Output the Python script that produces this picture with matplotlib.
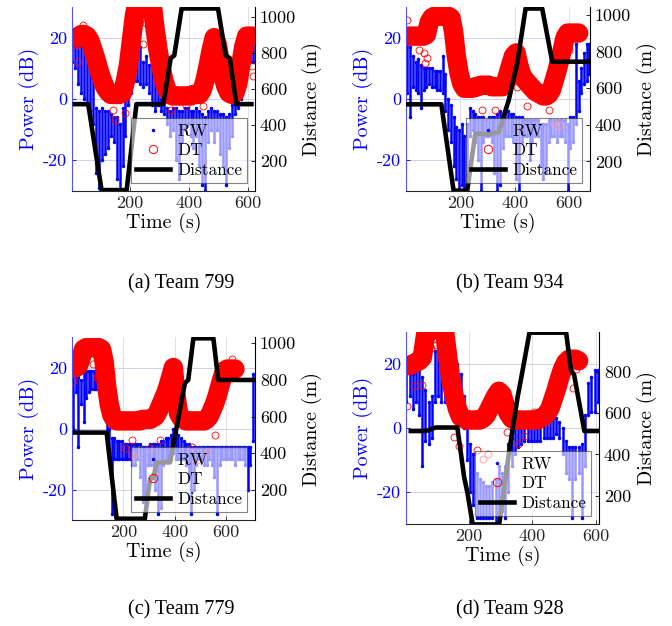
import matplotlib
matplotlib.use("Agg")
import matplotlib.pyplot as plt
import numpy as np
from matplotlib.lines import Line2D

plt.rcParams["font.family"] = "cmr10"
plt.rcParams["axes.unicode_minus"] = False
plt.rcParams["mathtext.fontset"] = "cm"

BLUE = "#0000ff"
RED = "#ff0000"

# ---- Team 799 --------------------------------------------------------------
a_dt = [20, 20, 20, 21, 21, 20.5, 19, 16, 13, 9.5,
        6.5, 4, 2.5, 1.5, 1.5, 1.5, 1.5, 2, 6, 11,
        19, 27, 32, 33, 33, 33, 33, 31, 23, 16,
        10.5, 6, 3, 1.5, 1, 1, 1, 1, 1, 1,
        1, 1.5, 1.5, 1.5, 3, 6.5, 11, 16, 20, 18,
        12.5, 7.5, 4, 2, 1.5, 2, 5, 11, 17, 20.5,
        20.5, 20.5]
a_rw_lo = [12, 10, 5, 2, 0, -2, -4, -8, -24, -29,
           -20, -18, -16, -12, -14, -26, -30, -22, -12, -2,
           2, 6, 6, 5, 4, 5, 2, -2, -4, -2,
           -4, -5, -8, -12, -10, -20, -26, -14, -10, -8,
           -12, -16, -12, -22, -28, -30, -14, -10, -14, -10,
           -18, -22, -28, -16, -12, -5, -3, 0, 5, 10,
           12, 12]
a_rw_hi = [19, 19, 18, 19, 18, 17, 14, 8, -3, -4,
           -3, -4, -4, -5, -6, -6, -8, -3, 2, 8,
           14, 12, 13, 17, 12, 14, 11, 12, 10, 5,
           0, -1, -3, -4, -3, -3, -4, -4, -3, -3,
           -4, -4, -3, -4, -5, -6, -4, -3, -4, -4,
           -5, -5, -6, -5, -2, 2, 8, 14, 17, 19,
           18, 18]
a_out_t = [18, 25, 42, 144, 150, 160, 183, 245, 256, 340, 391, 436, 448, 605, 613, 616]
a_out_db = [17.7, 12, 24, -3.5, -7, 4, -4.5, 18, 24.7, -3.5, -2.4, 7.4, -2.4, 16.6, 10.6, 7.4]
a_dist_t = [14, 59, 104, 189, 222, 313, 338, 350, 375, 498, 524, 538, 560, 611]
a_dist = [515, 515, 38, 38, 515, 515, 770, 785, 1046, 1046, 785, 770, 515, 515]

# ---- Team 934 --------------------------------------------------------------
b_dt = [20.5, 20.5, 20.5, 20.5, 20.5, 20.5, 20.5, 21, 25, 26.5,
        27, 27, 27, 27, 27, 27, 26.5, 22, 14, 8.5,
        5, 3.5, 3.5, 3.5, 3.5, 4, 4, 4.5, 4.5, 4.5,
        4.5, 4, 4, 4, 4, 4, 5, 8, 11, 14,
        15, 11, 8, 6.5, 5.5, 4.5, 3.5, 2.5, 2, 1.5,
        1, 1, 1.5, 3, 6, 9, 12.5, 16, 20, 21.5,
        21.5, 21.5, 21.5, 21.5]
b_rw_lo = [2, -6, 4, 3, 2, -3, 3, 4, 5, 4,
           4, 3, 3, 2, -4, -10, -14, -22, -26, -30,
           -28, -30, -25, -12, -10, -14, -20, -30, -14, -12,
           -12, -14, -24, -30, -28, -16, -12, -12, -12, -14,
           -26, -30, -14, -12, -12, -20, -14, -12, -12, -22,
           -26, -24, -14, -12, -12, -14, -12, -12, -14, -30,
           -16, -14, -8, -4, 2, 5, 6, 8]
b_rw_hi = [18, 17, 14, 12, 13, 11, 10, 10, 10, 10,
           9, 9, 9, 14, 8, 0, -2, -6, -9, -10,
           -8, -12, -8, -3, -4, -5, -6, -6, -6, -7,
           -6, -6, -6, -5, -4, -5, -4, -4, -5, -5,
           -6, -6, -6, -7, -7, -7, -7, -7, -7, -8,
           -8, -8, -7, -7, -7, -7, -7, -7, -7, -8,
           -6, -6, 18, 6, 10, 15, 18, 18]
b_out_t = [3, 46, 65, 71, 77, 280, 329, 409, 446, 526, 544, 563, 600]
b_out_db = [25.7, 16, 15, 11.7, 13.4, -3.5, -3.5, 4, -2.4, -3.5, -7.8, -8.4, 16]
b_dist_t = [3, 130, 175, 225, 255, 300, 341, 378, 409, 440, 501, 538, 677]
b_dist = [512, 512, 40, 40, 353, 348, 360, 535, 735, 1036, 1036, 745, 745]

# ---- Team 779 --------------------------------------------------------------
c_dt = [20, 20, 20.5, 23, 26, 26.5, 26.5, 26.5, 26.5, 26.5,
        26.5, 26, 22, 14, 8, 4.5, 3, 2.5, 2.5, 2.5,
        2.5, 2.5, 2.5, 2.5, 2.5, 2.5, 2.5, 3, 3, 3,
        3, 3.5, 4, 5.5, 7.5, 9.5, 11.5, 14, 17, 20,
        11, 5, 3.5, 3, 2.5, 2.5, 2.5, 2.5, 2.5, 2.5,
        2.5, 2.5, 3, 4, 6, 8, 10.5, 13.5, 16.5, 19,
        19.5, 19.5, 19.5, 19.5]
c_rw_lo = [0, 12, -6, 8, 2, 10, 12, 13, 13, 13,
           13, 10, 4, -2, -8, -28, -10, -10, -10, -10,
           -10, -10, -10, -12, -12, -10, -16, -24, -22, -12,
           -12, -12, -20, -28, -26, -12, -10, -10, -10, -8,
           -10, -10, -10, -10, -12, -16, -28, -20, -12, -10,
           -10, -12, -12, -10, -12, -16, -28, -12, -10, -10,
           -10, -10, -10, -12, -10, -10, -10, -12, -20, -12,
           -4]
c_rw_hi = [18, 18, 17, 16, 19, 19, 19, 19, 19, 18,
           18, 18, 15, 8, 0, -3, -3, -4, -4, -4,
           -5, -5, -5, -5, -5, -5, -5, -6, -6, -6,
           -5, -5, -5, -5, -4, -4, -3, -3, -2, 0,
           -1, -2, -3, -4, -5, -5, -6, -6, -6, -6,
           -6, -6, -6, -6, -6, -6, -6, -6, -6, -6,
           -6, -6, -6, -6, -6, -6, -6, -6, -6, -6,
           18]
c_out_t = [2, 5, 83, 96, 180, 206, 232, 239, 304, 343, 466, 486, 525, 557, 622]
c_out_db = [24, 15.7, 21, 16.8, 4.3, -6.5, -3.8, -8.6, -6.5, -3.8, -6, -10.3, -7.6, -2.2, 22.7]
c_dist_t = [12, 135, 174, 284, 304, 317, 330, 382, 440, 453, 473, 551, 570, 713]
c_dist = [513, 513, 43, 43, 260, 265, 350, 350, 783, 800, 1027, 1027, 800, 800]

# ---- Team 928 --------------------------------------------------------------
d_dt = [19.5, 19.5, 20, 20.5, 21, 22, 29, 30, 31, 31,
        31, 31, 30, 22, 15, 10, 6, 3.5, 3, 2.5,
        2.5, 2.5, 2.5, 2.5, 3, 4, 6, 8, 10, 11.5,
        10.5, 7, 4.5, 3, 2.5, 2.5, 2.5, 2.5, 2.5, 2.5,
        2.5, 2.5, 3, 3.5, 4.5, 6, 9, 12, 15.5, 18.5,
        20.5, 21.5, 21.5, 21.5, 21]
d_rw_lo = [8, 10, 6, 8, 4, -12, -4, -5, -3, 8,
           10, 8, 8, 10, 9, 8, 8, 6, 0, -10,
           -20, -24, -28, -28, -28, -28, -28, -28, -30, -28,
           -26, -28, -20, -12, -8, -6, -5, -4, -4, -4,
           -4, -4, -4, -3, -3, -3, -3, -2, -3, -8,
           -14, -16, -28, -16, -14, -28, -12, 4, 5, 5,
           8]
d_rw_hi = [18, 18, 17, 18, 18, 16, 12, 8, 10, 24,
           26, 22, 18, 18, 19, 19, 20, 17, 10, 2,
           -5, -8, -14, -16, -17, -18, -18, -17, -16, -12,
           -14, -12, -5, -3, 0, 1, 1, 2, 2, 2,
           2, 2, 2, 3, 3, 3, 3, 3, 2, 0,
           -4, -6, -6, -6, -6, -5, 4, 14, 16, 18,
           18]
d_out_t = [8, 29, 55, 82, 97, 155, 171, 228, 244, 260, 322, 354, 375, 406, 527, 537]
d_out_db = [7, 13, 13.6, 25, 26, -2.9, -5.5, -7, -9.6, -8, -1.3, -5, -2.4, 4.9, 12.6, 18.3]
d_dist_t = [19, 66, 97, 165, 186, 197, 213, 296, 328, 354, 364, 391, 506, 521, 531, 563, 610]
d_dist = [513, 513, 530, 530, 292, 210, 61, 61, 421, 679, 760, 989, 989, 808, 784, 513, 513]

captions = ["(a) Team 799", "(b) Team 934", "(c) Team 779", "(d) Team 928"]

panels = [
    dict(dt=a_dt, lo=a_rw_lo, hi=a_rw_hi, ot=a_out_t, odb=a_out_db,
         dt_t=a_dist_t, dist=a_dist, xlim=(4, 623), dlim=(33, 1054),
         dticks=[200, 400, 600, 800, 1000], rect=[0.1071, 0.6949, 0.2723, 0.2939],
         cap=(0.27, 0.546)),
    dict(dt=b_dt, lo=b_rw_lo, hi=b_rw_hi, ot=b_out_t, odb=b_out_db,
         dt_t=b_dist_t, dist=b_dist, xlim=(0, 677), dlim=(38, 1044),
         dticks=[200, 400, 600, 800, 1000], rect=[0.6042, 0.6949, 0.2738, 0.2939],
         cap=(0.759, 0.546)),
    dict(dt=c_dt, lo=c_rw_lo, hi=c_rw_hi, ot=c_out_t, odb=c_out_db,
         dt_t=c_dist_t, dist=c_dist, xlim=(0, 713), dlim=(36, 1034),
         dticks=[200, 400, 600, 800, 1000], rect=[0.1071, 0.1693, 0.2723, 0.2923],
         cap=(0.27, 0.025)),
    dict(dt=d_dt, lo=d_rw_lo, hi=d_rw_hi, ot=d_out_t, odb=d_out_db,
         dt_t=d_dist_t, dist=d_dist, xlim=(4, 609), dlim=(63, 992),
         dticks=[200, 400, 600, 800], rect=[0.6042, 0.1629, 0.2872, 0.3067],
         cap=(0.759, 0.025)),
]


def draw_panel(fig, p, caption):
    ax = fig.add_axes(p["rect"])
    t_dt = np.arange(len(p["dt"])) * 10 + 5
    t_rw = np.arange(len(p["lo"])) * 10 + 5

    # RW: vertical spread of the dense blue cloud
    ax.vlines(t_rw, p["lo"], p["hi"], color=BLUE, lw=1.8, zorder=1)
    ax.plot(t_rw, p["lo"], ".", color=BLUE, ms=3, zorder=1)
    ax.plot(t_rw, p["hi"], ".", color=BLUE, ms=3, zorder=1)

    # DT: dense band of red circles, drawn as a thick red trace
    ax.plot(t_dt, p["dt"], "-", color=RED, lw=14,
            solid_joinstyle="round", solid_capstyle="round", zorder=2)
    ax.plot(p["ot"], p["odb"], "o", color=RED, mfc="none", ms=5, mew=0.6, zorder=2)

    ax.set_xlim(*p["xlim"])
    ax.set_ylim(-30, 30)
    ax.set_xticks([200, 400, 600])
    ax.set_yticks([-20, 0, 20])
    ax.set_xlabel("Time (s)", fontsize=14.4, labelpad=1)
    ax.set_ylabel("Power (dB)", fontsize=14.4, color=BLUE, labelpad=3)
    ax.tick_params(axis="both", direction="in", length=3, labelsize=13, width=0.6)
    ax.tick_params(axis="y", colors=BLUE)
    ax.tick_params(axis="x", colors="#262626")
    ax.grid(True, axis="y", color="#cfcff5", lw=0.7)
    ax.grid(True, axis="x", color="#dedee6", lw=0.7)
    ax.set_axisbelow(True)
    ax.spines["top"].set_visible(False)
    ax.spines["left"].set_color("#5050ff")
    ax.spines["bottom"].set_color("#262626")
    ax.spines["right"].set_visible(False)

    ax2 = ax.twinx()
    ax2.plot(p["dt_t"], p["dist"], color="black", lw=3.3, zorder=3)
    ax2.set_ylim(*p["dlim"])
    ax2.set_yticks(p["dticks"])
    ax2.set_ylabel("Distance (m)", fontsize=14.4, labelpad=4)
    ax2.tick_params(axis="y", direction="in", length=3, labelsize=13, width=0.6)
    ax2.spines["top"].set_visible(False)
    ax2.spines["left"].set_visible(False)
    ax2.spines["bottom"].set_visible(False)

    handles = [
        Line2D([], [], ls="none", marker=".", color=BLUE, ms=3),
        Line2D([], [], ls="none", marker="o", color=RED, mfc="none", ms=6, mew=0.7),
        Line2D([], [], color="black", lw=3.3),
    ]
    leg = ax2.legend(handles, ["RW", "DT", "Distance"], loc="lower right",
                     fontsize=12.4, framealpha=0.6, fancybox=False,
                     edgecolor="#333333", borderaxespad=0.45, borderpad=0.3,
                     labelspacing=0.25, handlelength=2.0, handletextpad=0.4)
    leg.get_frame().set_linewidth(0.8)

    fig.text(p["cap"][0], p["cap"][1], caption, ha="center", va="center",
             fontsize=14.5, family="Liberation Serif")


fig = plt.figure(figsize=(6.72, 6.26), dpi=100)
for p, cap in zip(panels, captions):
    draw_panel(fig, p, cap)

fig.savefig("out.png", dpi=100)
